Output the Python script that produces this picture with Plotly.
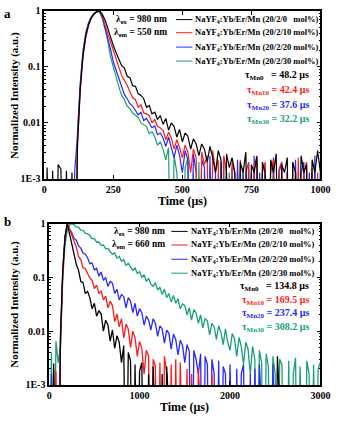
import plotly.graph_objects as go

# ---------------- data (intensity values in units of 1e-3, normalized to peak = 1000) -------------
time_a = list(range(0, 1001, 10))      # μs, panel a (λem = 550 nm)
mn0_a = [0, 1.6, 0, 1.4, 0, 1.8, 1.5, 0, 1.4, 0,
         1.3, 0, 4, 40, 160, 350, 560, 750, 880, 960,
         1000, 870, 690, 470, 330, 240, 178, 138, 105, 95,
         68, 64, 46, 45, 33, 31, 27, 19, 20.5, 14.5,
         15.5, 11.5, 13.5, 9.4, 12, 7.4, 10, 8.6, 5.6, 7.6,
         4.6, 6.6, 5.8, 3.4, 5.2, 4.2, 2.6, 4.2, 3.4, 2.0,
         3.8, 2.4, 1.3, 3.2, 2.2, 0, 2.8, 1.6, 2.4, 1.3,
         0, 2.0, 1.3, 3.0, 0, 1.8, 1.3, 2.5, 0, 2.0,
         1.3, 0, 2.2, 1.3, 2.8, 0, 1.8, 1.3, 2.4, 0,
         2.0, 1.3, 0, 2.6, 1.3, 1.8, 0, 2.2, 1.3, 3.2,
         1.3]
mn10_a = [0, 0, 0, 0, 0, 0, 0, 0, 0, 0,
          0, 0, 4, 38, 150, 340, 550, 740, 880, 960,
          990, 830, 560, 390, 265, 190, 128, 98, 70, 58,
          47, 36, 28, 26, 19, 21, 15, 14.5, 13.5, 10,
          11.5, 8.6, 8.2, 7.4, 5.0, 6.8, 5.4, 3.4, 5.0, 3.6,
          2.4, 4.0, 3.0, 1.3, 3.4, 2.4, 0, 3.0, 1.8, 2.6,
          0, 3.2, 1.3, 2.2, 0, 2.6, 1.3, 0, 2.0, 1.3,
          0, 2.2, 0, 1.3, 2.0, 0, 1.6, 2.6, 0, 1.3,
          2.0, 0, 1.3, 2.2, 0, 1.5, 2.0, 0, 1.3, 0,
          1.8, 0, 2.4, 0, 1.3, 2.0, 0, 1.6, 0, 1.3,
          0]
mn20_a = [0, 0, 0, 0, 0, 0, 0, 0, 0, 0,
          0, 1.4, 6, 48, 185, 395, 600, 770, 890, 970,
          975, 770, 510, 315, 205, 122, 86, 60, 46, 32,
          27, 22, 20, 17, 14, 15.5, 11, 12, 9.6, 8.2,
          8.8, 6.2, 6.6, 5.4, 3.8, 5.6, 3.6, 2.4, 4.0, 2.6,
          1.3, 3.2, 2.2, 0, 2.8, 1.3, 0, 2.2, 1.6, 0,
          2.6, 0, 1.3, 0, 2.0, 0, 1.3, 0, 1.6, 0,
          2.2, 0, 1.3, 0, 2.0, 0, 2.6, 0, 1.3, 0,
          1.6, 0, 0, 2.4, 0, 1.3, 2.0, 0, 1.3, 0,
          0, 2.2, 0, 1.3, 2.0, 0, 1.3, 0, 2.6, 0,
          1.3]
mn30_a = [0, 0, 0, 0, 0, 0, 0, 0, 0, 0,
          0, 0, 7, 52, 195, 405, 610, 780, 900, 975,
          965, 720, 470, 285, 150, 98, 64, 44, 31, 26,
          20, 18, 15, 13.5, 12.5, 10, 9.4, 8.6, 6.4, 7.0,
          5.6, 4.0, 4.6, 3.4, 2.2, 3.6, 0, 2.6, 1.3, 0,
          0, 1.6, 2.4, 0, 1.3, 0, 2.0, 0, 1.3, 0,
          1.6, 0, 0, 1.3, 0, 2.0, 0, 1.3, 0, 0,
          1.3, 0, 1.6, 0, 0, 1.3, 0, 2.0, 0, 0,
          1.3, 0, 0, 1.6, 0, 1.3, 0, 0, 1.3, 0,
          0, 1.3, 0, 0, 1.6, 0, 0, 1.3, 0, 0,
          1.3]

time_b = list(range(0, 3001, 25))      # μs, panel b (λem = 660 nm)
mn0_b = [0, 0, 2.5, 0, 0, 8, 130, 560, 1000, 650,
         410, 290, 175, 135, 84, 80, 50, 55, 42, 26,
         33, 19, 24, 21, 10, 16, 13, 6.5, 10.5, 4.8,
         8.2, 6.2, 2.6, 5.4, 0, 4.0, 2.8, 0, 2.4, 0,
         1.8, 2.6, 0, 0, 1.6, 0, 2.2, 0, 0, 0,
         1.6, 0, 2.2, 0, 0, 0, 0, 0, 0, 0,
         0, 0, 0, 0, 0, 0, 0, 0, 0, 0,
         0, 0, 0, 0, 0, 0, 0, 0, 0, 0,
         0, 0, 0, 0, 0, 0, 0, 0, 0, 0,
         0, 0, 0, 0, 0, 0, 0, 0, 0, 0,
         0, 3.4, 0, 0, 0, 0, 0, 0, 0, 0,
         0, 0, 0, 0, 0, 0, 0, 0, 0, 0,
         0]
mn10_b = [0, 0, 0, 1.8, 0, 6, 120, 540, 990, 790,
          610, 450, 365, 245, 215, 150, 145, 118, 98, 88,
          62, 72, 50, 56, 38, 45, 27, 36, 30, 15,
          21, 12, 17, 7.5, 13.5, 11, 5, 10, 7.5, 3.4,
          6.4, 4.8, 1.6, 4.4, 3.4, 0, 3.0, 2.2, 0, 2.6,
          0, 3.4, 1.6, 0, 2.4, 0, 3.0, 0, 2.6, 0,
          0, 2.0, 0, 1.6, 0, 0, 2.0, 0, 0, 0,
          0, 0, 1.6, 0, 0, 0, 0, 0, 0, 0,
          0, 0, 0, 0, 0, 0, 0, 0, 0, 0,
          0, 0, 0, 0, 0, 0, 0, 0, 0, 0,
          0, 0, 0, 0, 0, 0, 0, 0, 0, 0,
          0, 0, 0, 0, 0, 0, 0, 0, 0, 0,
          0]
mn20_b = [0, 1.6, 0, 0, 0, 7, 125, 560, 1000, 790,
          680, 530, 490, 385, 350, 280, 270, 232, 180, 185,
          138, 148, 105, 126, 88, 100, 68, 84, 78, 50,
          60, 38, 48, 44, 27, 42, 36, 22, 33, 19,
          26, 22, 13, 19, 16, 10.5, 17, 14, 8, 12.5,
          11, 6, 10.5, 9, 4.6, 8.8, 7, 3.6, 6.8, 5.4,
          2.6, 5.6, 4.2, 0, 4.4, 3.0, 1.6, 3.8, 0, 3.4,
          2.4, 0, 3.0, 1.6, 0, 2.8, 0, 2.2, 1.6, 0,
          2.4, 0, 0, 2.0, 0, 1.6, 2.4, 0, 0, 1.6,
          0, 2.0, 0, 2.4, 0, 0, 0, 0, 0, 2.4,
          0, 0, 0, 0, 0, 0, 0, 0, 0, 0,
          0, 0, 0, 0, 0, 0, 0, 0, 0, 0,
          0]
mn30_b = [0, 4.0, 0, 6.5, 2.6, 5, 95, 390, 740, 940,
          1000, 960, 870, 850, 760, 750, 660, 650, 600, 520,
          530, 450, 455, 395, 400, 340, 345, 300, 270, 285,
          230, 245, 200, 215, 168, 182, 160, 135, 150, 118,
          128, 100, 112, 84, 96, 74, 68, 80, 58, 66,
          48, 60, 42, 50, 35, 46, 33, 40, 26, 32,
          30, 20, 27, 16, 25, 22, 14, 20, 11.5, 17,
          15.5, 8.5, 14, 12, 7, 12.5, 9.5, 5.6, 11, 6.2,
          4.4, 9, 7.2, 3.4, 7.6, 5.2, 2.4, 6.2, 4.6, 1.6,
          5.2, 3.0, 0, 4.4, 2.6, 0, 3.8, 2.2, 0, 3.4,
          1.6, 0, 3.0, 2.4, 0, 0, 2.8, 0, 1.6, 3.2,
          0, 2.2, 0, 0, 2.8, 1.6, 0, 2.4, 0, 2.0,
          2.6]

series_names = ["NaYF<sub>4</sub>:Yb/Er/Mn (20/2/0\u00a0\u00a0\u00a0mol%)",
                "NaYF<sub>4</sub>:Yb/Er/Mn (20/2/10 mol%)",
                "NaYF<sub>4</sub>:Yb/Er/Mn (20/2/20 mol%)",
                "NaYF<sub>4</sub>:Yb/Er/Mn (20/2/30 mol%)"]
tau_names = ["Mn0", "Mn10", "Mn20", "Mn30"]
tau_a = ["48.2", "42.4", "37.6", "32.2"]
tau_b = ["134.8", "169.5", "237.4", "308.2"]
xticks_a = [0, 250, 500, 750, 1000]
xticks_b = [0, 1000, 2000, 3000]
yticks = [0.001, 0.01, 0.1, 1]
yticklabels = ["1E-3", "0.01", "0.1", "1"]

colors = ["#000000", "#ff1a1a", "#2828ff", "#1b9f7b"]
FONT = "Liberation Serif"
W, H = 340, 421

def px(x):
    return x / W

def py(y):
    return 1 - y / H

def norm(vals):
    return [v / 1000 if v > 0 else 1e-6 for v in vals]

fig = go.Figure()
sets = [("x", "y", time_a, [mn0_a, mn10_a, mn20_a, mn30_a], 1.2),
        ("x2", "y2", time_b, [mn0_b, mn10_b, mn20_b, mn30_b], 1.3)]
for xa, ya, t, ser, lw in sets:
    for i in [3, 2, 1, 0]:
        assert len(ser[i]) == len(t)
        fig.add_trace(go.Scatter(x=t, y=norm(ser[i]), mode="lines", xaxis=xa, yaxis=ya,
                                 line=dict(color=colors[i], width=lw), showlegend=False,
                                 hoverinfo="skip"))

tickfont = dict(family=FONT, size=10, color="black", weight="bold")
minor_vals = [m * 10 ** e for e in (-3, -2, -1) for m in range(2, 10)]

def xaxis(dom, anchor, rng, ticks):
    return dict(domain=dom, anchor=anchor, range=rng, tickvals=ticks, ticktext=[str(v) for v in ticks],
                showline=True, mirror="ticks", linecolor="black", linewidth=1.5,
                ticks="inside", ticklen=4, tickwidth=1, tickcolor="black",
                showgrid=False, zeroline=False, tickfont=tickfont)

def yaxis(dom, anchor):
    return dict(domain=dom, anchor=anchor, type="log", range=[-3, 0], tickvals=yticks,
                ticktext=yticklabels, showline=True, mirror="ticks", linecolor="black",
                linewidth=1.5, ticks="inside", ticklen=4, tickwidth=1, tickcolor="black",
                minor=dict(tickvals=minor_vals, ticks="inside", ticklen=2, tickcolor="black"),
                showgrid=False, zeroline=False, tickfont=tickfont)

fig.update_layout(
    width=W, height=H, margin=dict(l=0, r=0, t=0, b=0), autosize=False,
    paper_bgcolor="white", plot_bgcolor="white",
    xaxis=xaxis([px(43), px(330)], "y", [0, 1000], xticks_a),
    yaxis=yaxis([py(178), py(5)], "x"),
    xaxis2=xaxis([px(48), px(330)], "y2", [0, 3000], xticks_b),
    yaxis2=yaxis([py(390), py(224)], "x2"),
)

ann = []
shapes = []

def text(x, y, s, size, color="black", xanchor="center", angle=0):
    ann.append(dict(x=px(x), y=py(y), xref="paper", yref="paper", text=s, showarrow=False,
                    xanchor=xanchor, yanchor="middle", textangle=angle,
                    font=dict(family=FONT, size=size, color=color, weight="bold")))

# panel labels and axis titles
text(5, 8, "a", 13)
text(5, 222, "b", 13)
text(12, 92, "Normalized Intensity (a.u.)", 11, angle=-90)
text(12, 307, "Normalized Intensity (a.u.)", 11, angle=-90)
text(187, 201, "Time (μs)", 12)
text(189, 413, "Time (μs)", 12)

# legends
for rows, x0, x1, lx, em in [([14, 27.5, 42.3, 56.7], 180, 197, 173, "550"),
                             ([232, 246, 260.7, 275], 175, 192, 170, "660")]:
    text(lx, rows[0], "λ<sub>ex</sub> = 980 nm", 9.5, xanchor="right")
    text(lx, rows[1], "λ<sub>em</sub> = " + em + " nm", 9.5, xanchor="right")
    for i in range(4):
        shapes.append(dict(type="line", xref="paper", yref="paper", x0=px(x0), x1=px(x1),
                           y0=py(rows[i]), y1=py(rows[i]), line=dict(color=colors[i], width=1)))
        text(x1 + 1, rows[i], series_names[i], 8.5, xanchor="left")

for rows, taus in [([72, 87, 102, 117], tau_a), ([289, 303, 317, 331], tau_b)]:
    for i in range(4):
        pad = "\u00a0\u00a0" if i == 0 else ""
        text(320, rows[i], "τ<sub>" + tau_names[i] + "</sub>" + pad + " = " + taus[i] + " μs",
             10, color=colors[i], xanchor="right")

fig.update_layout(annotations=ann, shapes=shapes)
fig.write_html("out.html")
